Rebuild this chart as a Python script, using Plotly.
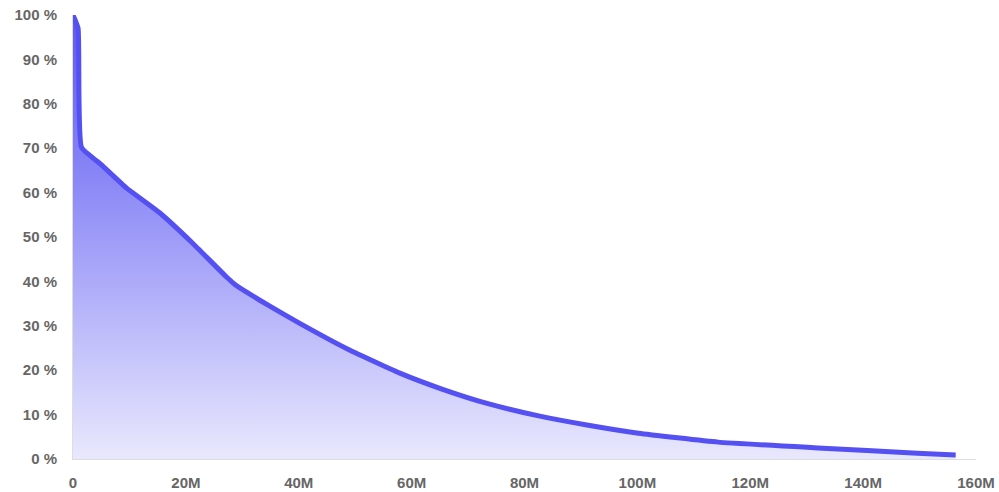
import plotly.graph_objects as go

# Data (x in millions, y in percent)
x_millions = [0.0, 0.9, 1.5, 5.0, 9.5, 12.7, 15.4, 21.2, 27.2, 29.0, 34.5, 40.1, 48.9,
              57.8, 65.5, 73.7, 82.5, 91.3, 100.2, 114.3, 132.0, 149.6, 156.4]
y_percent = [100.0, 97.0, 70.2, 66.3, 61.0, 58.0, 55.4, 48.6, 41.0, 39.0, 34.7, 30.6, 24.6,
             19.4, 15.7, 12.4, 9.7, 7.6, 5.8, 3.8, 2.5, 1.3, 0.9]

x_tickvals_m = [0, 20, 40, 60, 80, 100, 120, 140, 160]
y_tickvals = [0, 10, 20, 30, 40, 50, 60, 70, 80, 90, 100]
y_ticktext = [f"{v} %" for v in y_tickvals]

x_vals = [v * 1e6 for v in x_millions]

fig = go.Figure()
fig.add_trace(go.Scatter(
    x=x_vals, y=y_percent, mode="lines",
    line=dict(color="#5450f2", width=5, shape="spline", smoothing=0.4),
    fill="tozeroy",
    fillgradient=dict(
        type="vertical",
        colorscale=[[0, "rgba(84,80,242,0.13)"], [0.65, "rgba(84,80,242,0.70)"], [1, "rgba(84,80,242,0.95)"]],
        start=0, stop=100,
    ),
    cliponaxis=False,
    hoverinfo="skip",
))

tickfont = dict(family="Liberation Sans", size=15, color="#666666", weight="bold")

fig.update_layout(
    width=999, height=492,
    margin=dict(l=73, r=23, t=15, b=33, autoexpand=False),
    paper_bgcolor="white", plot_bgcolor="white",
    showlegend=False,
    xaxis=dict(
        range=[0, 160e6], tickvals=[v * 1e6 for v in x_tickvals_m], tickformat="~s",
        showgrid=False, zeroline=False, showline=True, linecolor="#dddddd", linewidth=1,
        ticks="outside", ticklen=10, tickcolor="rgba(0,0,0,0)", tickfont=tickfont,
        automargin=False, ticklabeloverflow="allow",
    ),
    yaxis=dict(
        range=[0, 100], tickvals=y_tickvals, ticktext=y_ticktext,
        showgrid=False, zeroline=False, showline=True, linecolor="#dddddd", linewidth=1,
        ticks="outside", ticklen=12, tickcolor="rgba(0,0,0,0)", tickfont=tickfont,
        automargin=False, ticklabeloverflow="allow",
    ),
)

# Remove the browser's default body margin so the 999x492 figure fills the window exactly.
fig.write_html(
    "out.html",
    config={"displayModeBar": False},
    post_script="document.body.style.margin='0';document.body.style.overflow='hidden';",
)
